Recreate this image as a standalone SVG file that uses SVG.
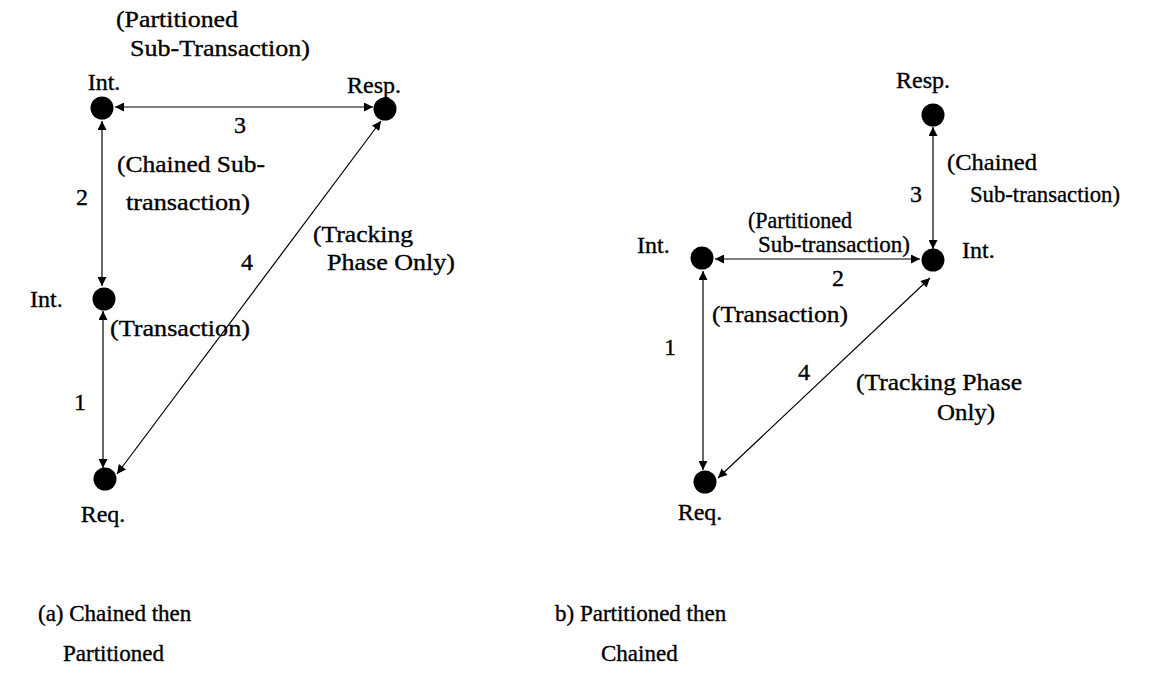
<svg xmlns="http://www.w3.org/2000/svg" width="1149" height="688" viewBox="0 0 1149 688">
<style>
text{font-family:"Liberation Serif","Times New Roman",serif;font-size:24px;fill:#000;stroke:#000;stroke-width:0.35}
.cap{font-size:23px}
.m{text-anchor:middle}
.n{fill:#000}
.c{stroke:#000;stroke-width:1.2;fill:none;marker-start:url(#ah);marker-end:url(#ah)}
</style>
<defs>
<marker id="ah" viewBox="0 0 10 10" refX="10" refY="5" markerWidth="10" markerHeight="9" markerUnits="userSpaceOnUse" orient="auto-start-reverse">
<path d="M0,0 L10,5 L0,10 z" fill="#000"/>
</marker>
</defs>
<rect width="1149" height="688" fill="#fff"/>
<g id="connectors">
<line class="c" x1="115" y1="107" x2="373" y2="107"/>
<line class="c" x1="102" y1="121" x2="102" y2="286"/>
<line class="c" x1="103" y1="311" x2="103" y2="468"/>
<line class="c" x1="381" y1="121" x2="117" y2="474"/>
<line class="c" x1="933" y1="127" x2="933" y2="249"/>
<line class="c" x1="715" y1="259" x2="920" y2="259"/>
<line class="c" x1="703" y1="271" x2="703" y2="470"/>
<line class="c" x1="930" y1="278" x2="718" y2="478"/>
</g>
<g id="edge-labels">
<text class="m" x="240" y="133">3</text>
<text class="m" x="82" y="205">2</text>
<text class="m" x="80" y="410">1</text>
<text class="m" x="247" y="270">4</text>
<text x="116" y="27" textLength="122" lengthAdjust="spacingAndGlyphs">(Partitioned</text>
<text x="130" y="56" textLength="180" lengthAdjust="spacingAndGlyphs">Sub-Transaction)</text>
<text x="117" y="172" textLength="148" lengthAdjust="spacingAndGlyphs">(Chained Sub-</text>
<text x="126" y="210" textLength="124" lengthAdjust="spacingAndGlyphs">transaction)</text>
<text x="110" y="336" textLength="140" lengthAdjust="spacingAndGlyphs">(Transaction)</text>
<text x="313" y="242" textLength="100" lengthAdjust="spacingAndGlyphs">(Tracking</text>
<text x="327" y="270" textLength="128" lengthAdjust="spacingAndGlyphs">Phase Only)</text>
<text class="m" x="916" y="202">3</text>
<text class="m" x="838" y="286">2</text>
<text class="m" x="670" y="355">1</text>
<text class="m" x="804" y="380">4</text>
<text x="947" y="170" textLength="90" lengthAdjust="spacingAndGlyphs">(Chained</text>
<text x="970" y="202" textLength="150" lengthAdjust="spacingAndGlyphs">Sub-transaction)</text>
<text x="748" y="228" textLength="104" lengthAdjust="spacingAndGlyphs">(Partitioned</text>
<text x="758" y="252" textLength="152" lengthAdjust="spacingAndGlyphs">Sub-transaction)</text>
<text x="712" y="322" textLength="136" lengthAdjust="spacingAndGlyphs">(Transaction)</text>
<text x="856" y="390" textLength="166" lengthAdjust="spacingAndGlyphs">(Tracking Phase</text>
<text x="937" y="420" textLength="58" lengthAdjust="spacingAndGlyphs">Only)</text>
</g>
<g id="a-int-top"><circle class="n" cx="102" cy="108" r="11.5"/><text class="m" x="104" y="90">Int.</text></g>
<g id="a-resp"><circle class="n" cx="385" cy="109" r="11.5"/><text class="m" x="374" y="93">Resp.</text></g>
<g id="a-int-mid"><circle class="n" cx="104" cy="299" r="11.5"/><text x="30" y="307">Int.</text></g>
<g id="a-req"><circle class="n" cx="105" cy="479" r="11.5"/><text class="m" x="103" y="522">Req.</text></g>
<g id="b-resp"><circle class="n" cx="933" cy="115" r="11.5"/><text class="m" x="923" y="88">Resp.</text></g>
<g id="b-int-left"><circle class="n" cx="702" cy="258" r="11.5"/><text x="637" y="253">Int.</text></g>
<g id="b-int-right"><circle class="n" cx="933" cy="260" r="11.5"/><text x="962" y="258">Int.</text></g>
<g id="b-req"><circle class="n" cx="705" cy="482" r="11.5"/><text class="m" x="700" y="520">Req.</text></g>
<g id="captions">
<text class="cap" x="38" y="621">(a) Chained then</text>
<text class="cap" x="63" y="661">Partitioned</text>
<text class="cap" x="555" y="621">b) Partitioned then</text>
<text class="cap" x="601" y="661">Chained</text>
</g>
</svg>
